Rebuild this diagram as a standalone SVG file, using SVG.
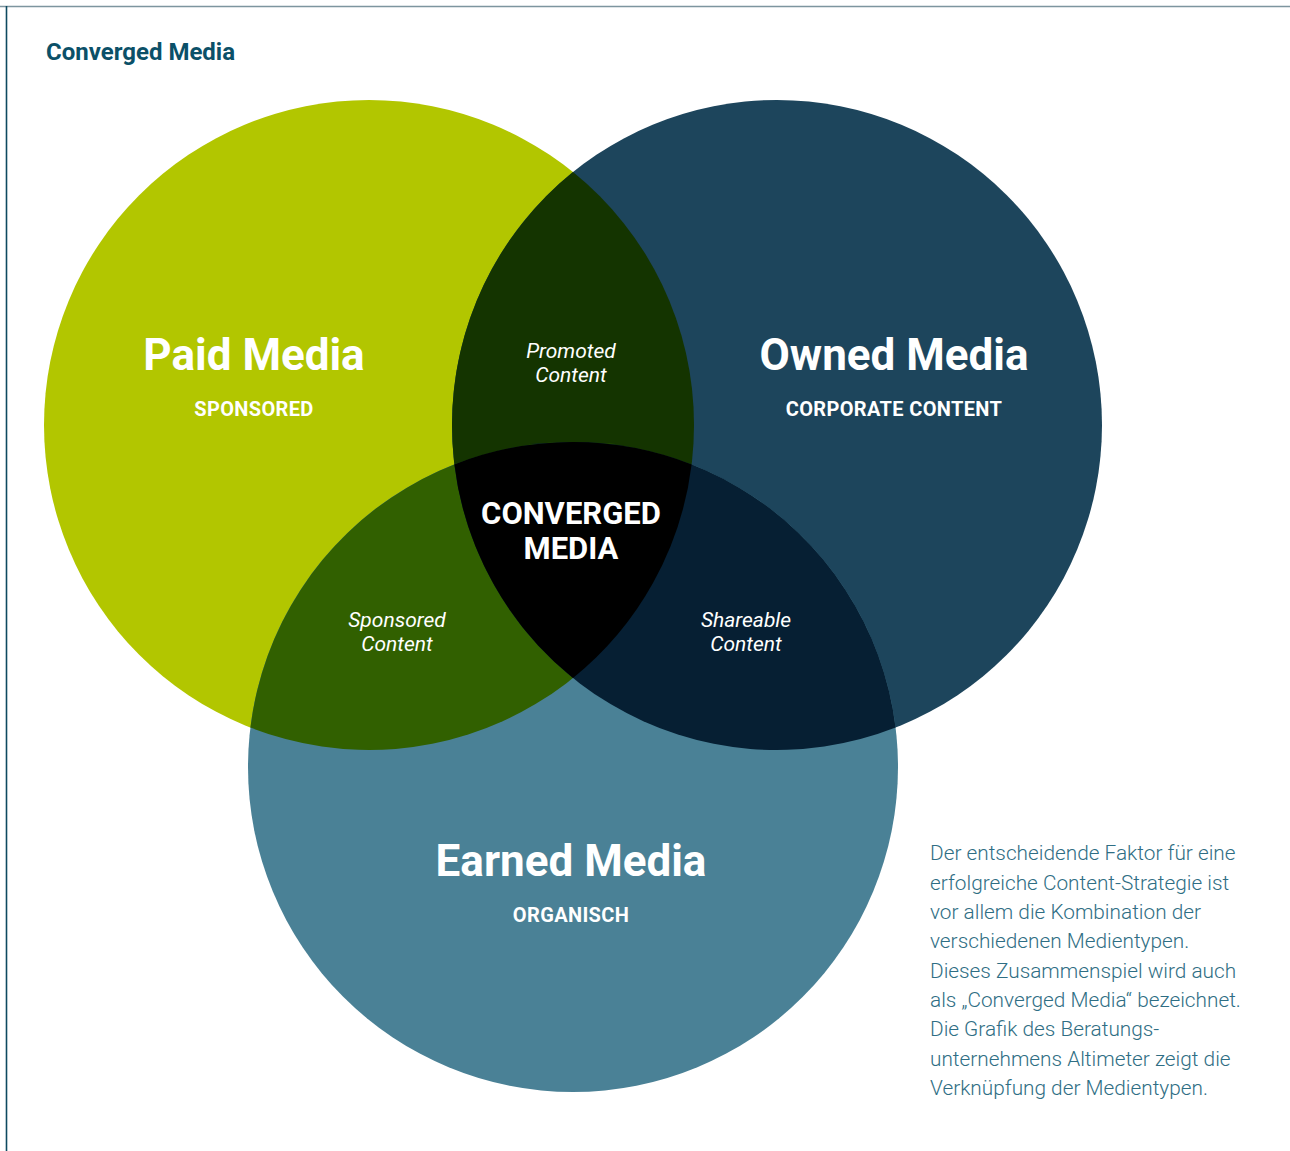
<svg xmlns="http://www.w3.org/2000/svg" width="1290" height="1151" viewBox="0 0 1290 1151">
<style>
.big{font-family:Roboto,"Liberation Sans",sans-serif;font-weight:700;font-size:44px;fill:#fff;text-anchor:middle}
.sub{font-family:Roboto,"Liberation Sans",sans-serif;font-weight:700;font-size:20px;letter-spacing:0.35px;fill:#fff;text-anchor:middle}
.it{font-family:Roboto,"Liberation Sans",sans-serif;font-style:italic;font-size:21px;fill:#fff;text-anchor:middle}
.core{font-family:Roboto,"Liberation Sans",sans-serif;font-weight:700;font-size:31px;fill:#fff;text-anchor:middle}
.title{font-family:Roboto,"Liberation Sans",sans-serif;font-weight:700;font-size:24px;fill:#0b5068}
.para{font-family:Roboto,"Liberation Sans",sans-serif;font-weight:300;font-size:20.8px;fill:#2f6e84}
</style>
<rect width="1290" height="1151" fill="#fff"/>
<line x1="0" y1="6.5" x2="1290" y2="6.5" stroke="#7d959f" stroke-width="1.6"/>
<line x1="6.5" y1="6" x2="6.5" y2="1151" stroke="#0e4a60" stroke-width="1.6"/>
<text class="title" x="46" y="60">Converged Media</text>
<g id="paid"><circle cx="369" cy="425" r="325" fill="#b2c600"/></g>
<g id="owned"><circle cx="777" cy="425" r="325" fill="#1d455c"/></g>
<g id="earned"><circle cx="573" cy="767" r="325" fill="#4a8196"/></g>
<g id="promoted"><path d="M573,172 A325,325 0 0 1 573,678 A325,325 0 0 1 573,172 Z" fill="#143400"/></g>
<g id="sponsored"><path d="M250.4,727.6 A325,325 0 0 1 691.6,464.4 A325,325 0 0 1 250.4,727.6 Z" fill="#316000"/></g>
<g id="shareable"><path d="M454.4,464.4 A325,325 0 0 1 895.6,727.6 A325,325 0 0 1 454.4,464.4 Z" fill="#061f33"/></g>
<g id="converged"><path d="M454.4,464.4 A325,325 0 0 1 691.6,464.4 A325,325 0 0 1 573,678 A325,325 0 0 1 454.4,464.4 Z" fill="#000"/></g>
<g id="connectors"></g>
<g id="labels">
<text class="big" x="254" y="370">Paid Media</text>
<text class="sub" x="254" y="416">SPONSORED</text>
<text class="big" x="894" y="370">Owned Media</text>
<text class="sub" x="894" y="416">CORPORATE CONTENT</text>
<text class="big" x="571" y="876">Earned Media</text>
<text class="sub" x="571" y="922">ORGANISCH</text>
<text class="it" x="571" y="358">Promoted</text>
<text class="it" x="571" y="382">Content</text>
<text class="core" x="571" y="524">CONVERGED</text>
<text class="core" x="571" y="559">MEDIA</text>
<text class="it" x="397" y="627">Sponsored</text>
<text class="it" x="397" y="651">Content</text>
<text class="it" x="746" y="627">Shareable</text>
<text class="it" x="746" y="651">Content</text>
</g>
<g id="paragraph">
<text class="para" x="930" y="860">Der entscheidende Faktor für eine</text>
<text class="para" x="930" y="890">erfolgreiche Content-Strategie ist</text>
<text class="para" x="930" y="919">vor allem die Kombination der</text>
<text class="para" x="930" y="948">verschiedenen Medientypen.</text>
<text class="para" x="930" y="978">Dieses Zusammenspiel wird auch</text>
<text class="para" x="930" y="1007">als „Converged Media“ bezeichnet.</text>
<text class="para" x="930" y="1036">Die Grafik des Beratungs-</text>
<text class="para" x="930" y="1066">unternehmens Altimeter zeigt die</text>
<text class="para" x="930" y="1095">Verknüpfung der Medientypen.</text>
</g>
</svg>
